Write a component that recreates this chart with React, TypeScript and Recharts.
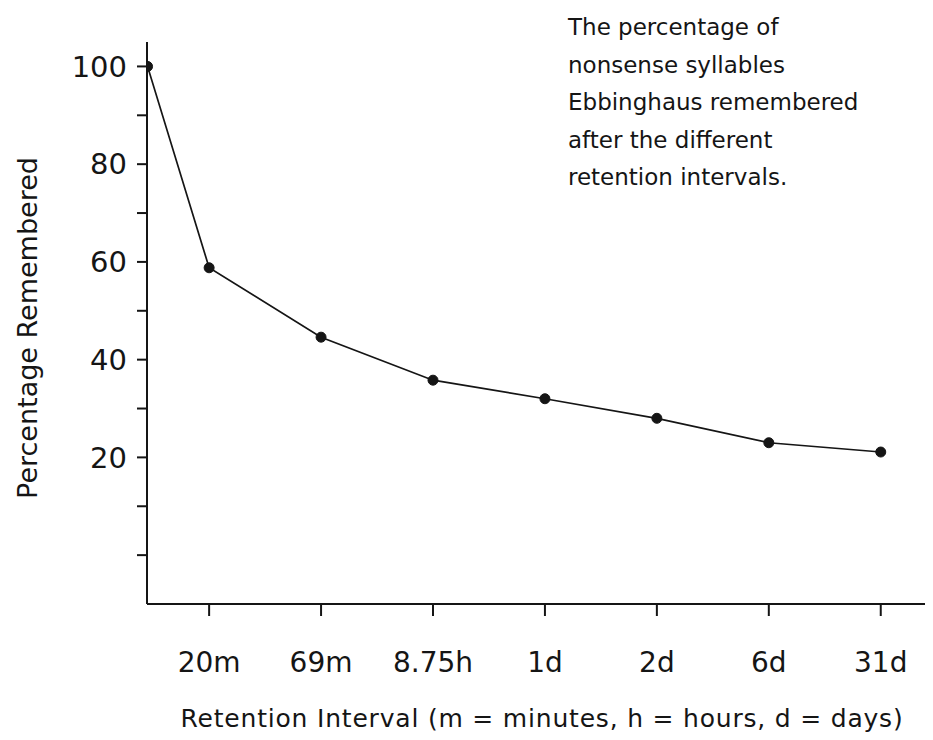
import { LineChart, Line, XAxis, YAxis } from 'recharts';

// retention intervals (first entry = immediately after learning)
const intervals = ['start', '20m', '69m', '8.75h', '1d', '2d', '6d', '31d'];
const intervalPos = [0.45, 1, 2, 3, 4, 5, 6, 7];
const percentRemembered = [100, 58.8, 44.6, 35.8, 32.0, 28.0, 23.0, 21.1];
const yTicks = [0, 10, 20, 30, 40, 50, 60, 70, 80, 90, 100];
const yLabels = [20, 40, 60, 80, 100];
const noteLines = [
  'The percentage of',
  'nonsense syllables',
  'Ebbinghaus remembered',
  'after the different',
  'retention intervals.',
];

const data = intervals.map((name, i) => ({
  name,
  pos: intervalPos[i],
  pct: percentRemembered[i],
}));

const FONT = '"DejaVu Sans", "Noto Sans", sans-serif';
const INK = '#151515';

export default function App() {
  return (
    <div style={{ margin: -8, width: 933, height: 740, position: 'relative', background: '#fff', fontFamily: FONT, color: INK }}>
      <LineChart width={933} height={740} data={data} margin={{ top: 42, right: 3, left: 67, bottom: 76 }}>
        <XAxis
          type="number"
          dataKey="pos"
          domain={[0.445, 7.44]}
          allowDataOverflow
          ticks={intervalPos.slice(1)}
          tickFormatter={(v: number) => intervals[intervalPos.indexOf(v)] ?? ''}
          height={60}
          stroke={INK}
          strokeWidth={2}
          tickSize={12}
          tickMargin={36}
          tick={{ fontSize: 28, fill: INK, fontFamily: FONT }}
        />
        <YAxis
          type="number"
          domain={[-10, 105]}
          allowDataOverflow
          ticks={yTicks}
          tickFormatter={(v: number) => (yLabels.includes(v) ? String(v) : '')}
          width={80}
          stroke={INK}
          strokeWidth={2}
          tickSize={10}
          tickMargin={10}
          tick={{ fontSize: 29, fill: INK, fontFamily: FONT }}
        />
        <Line
          dataKey="pct"
          type="linear"
          stroke={INK}
          strokeWidth={1.7}
          dot={{ r: 5, fill: INK, stroke: INK, strokeWidth: 1 }}
          isAnimationActive={false}
        />
      </LineChart>

      {noteLines.map((t, i) => (
        <div key={t} style={{ position: 'absolute', left: 568, top: 9 + i * 37.5, fontSize: 23, lineHeight: '37.5px', whiteSpace: 'nowrap' }}>
          {t}
        </div>
      ))}

      <div style={{ position: 'absolute', left: 27, top: 328, transform: 'translate(-50%, -50%) rotate(-90deg)', fontSize: 27, whiteSpace: 'nowrap' }}>
        Percentage Remembered
      </div>

      <div style={{ position: 'absolute', left: 142, width: 800, top: 702, textAlign: 'center', fontSize: 25, letterSpacing: 0.8, lineHeight: '34px', whiteSpace: 'nowrap' }}>
        Retention Interval (m = minutes, h = hours, d = days)
      </div>
    </div>
  );
}
